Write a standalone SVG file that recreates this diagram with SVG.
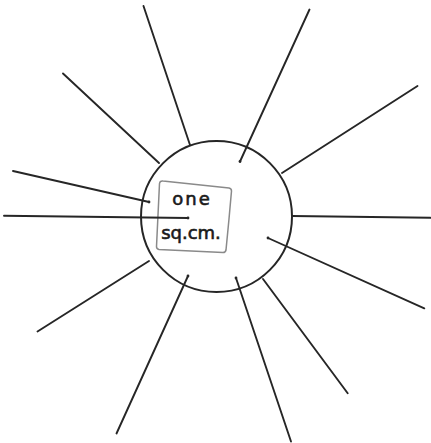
<svg xmlns="http://www.w3.org/2000/svg" width="431" height="443" viewBox="0 0 431 443">
<style>
.ray{stroke:#262626;stroke-width:1.9;stroke-linecap:round;fill:none}
.circ{stroke:#262626;stroke-width:2;fill:none}
.sq{stroke:#8a8a8a;stroke-width:1.5;fill:none}
.lbl{font-family:"DejaVu Sans",sans-serif;font-size:18px;fill:#1a1a1a;stroke:#1a1a1a;stroke-width:0.6;text-anchor:middle}
.dot{fill:#262626}
</style>
<rect width="431" height="443" fill="#fff"/>
<g id="circle"><circle class="circ" cx="216.5" cy="216.5" r="75.5"/></g>
<g id="square">
<path class="sq" d="M163,181 L229,188 Q231.5,188.5 231.5,191 Q229,220 226,250 Q225.5,252.5 223,252.5 L159,249.5 Q156.5,249 156.5,246.5 Q158,215 159.5,183.5 Q160,180.5 163,181 Z"/>
<text class="lbl" x="192" y="204.5" letter-spacing="2">one</text>
<text class="lbl" x="191" y="238.5">sq.cm.</text>
</g>
<g id="connectors">
<line class="ray" x1="143.5" y1="6" x2="190" y2="145"/>
<line class="ray" x1="309.5" y1="9.5" x2="240" y2="161.5"/>
<line class="ray" x1="63" y1="73.5" x2="159" y2="163"/>
<line class="ray" x1="417.5" y1="86" x2="282" y2="173"/>
<line class="ray" x1="13" y1="171" x2="149" y2="202"/>
<line class="ray" x1="4" y1="215.7" x2="188" y2="218"/>
<line class="ray" x1="292" y1="216" x2="430.5" y2="217.8"/>
<line class="ray" x1="268" y1="238" x2="424.3" y2="308.3"/>
<line class="ray" x1="149" y1="261" x2="37.5" y2="331.5"/>
<line class="ray" x1="263" y1="279" x2="347.7" y2="393.3"/>
<line class="ray" x1="236" y1="278" x2="291" y2="441.5"/>
<line class="ray" x1="188" y1="276" x2="116.5" y2="433.5"/>
<circle class="dot" cx="240" cy="161.5" r="1.4"/>
<circle class="dot" cx="149" cy="202" r="1.4"/>
<circle class="dot" cx="188" cy="218" r="1.4"/>
<circle class="dot" cx="268" cy="238" r="1.4"/>
<circle class="dot" cx="236" cy="278" r="1.4"/>
<circle class="dot" cx="188" cy="276" r="1.4"/>
</g>
</svg>
